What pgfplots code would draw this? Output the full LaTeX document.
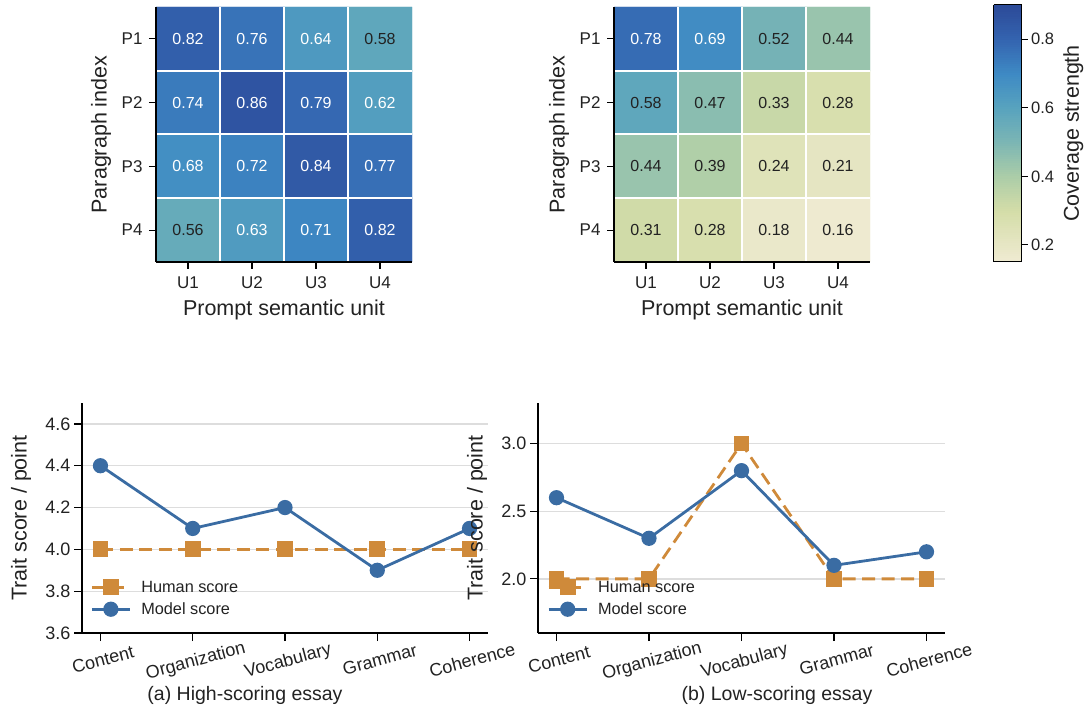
\documentclass[border=0pt]{standalone}
\usepackage{pgfplots}
\pgfplotsset{compat=1.18}
\usepackage{fontspec}
\setmainfont{Liberation Sans}
\definecolor{hblue}{RGB}{58,108,163}
\definecolor{horange}{RGB}{207,138,58}
\definecolor{gridgray}{RGB}{221,221,221}
\definecolor{txtdark}{RGB}{34,34,34}
\pgfplotsset{
  colormap={cov}{rgb255(15pt)=(240,235,211); rgb255(30pt)=(212,221,168); rgb255(40pt)=(172,205,168); rgb255(50pt)=(124,182,180); rgb255(60pt)=(88,163,190); rgb255(70pt)=(62,138,196); rgb255(80pt)=(52,100,176); rgb255(90pt)=(44,74,152)},
  hm/.style={
    anchor=south west, scale only axis, width=256pt, height=255pt,
    xmin=-0.5, xmax=3.5, ymin=-0.5, ymax=3.5,
    xtick={0,1,2,3}, xticklabels={U1,U2,U3,U4},
    ytick={0,1,2,3}, yticklabels={P4,P3,P2,P1},
    minor xtick={0.5,1.5,2.5}, minor ytick={0.5,1.5,2.5},
    minor tick length=0pt, xminorgrids, yminorgrids,
    minor grid style={white, line width=2pt},
    axis on top,
    axis x line*=bottom, axis y line*=left,
    axis line style={-, black, line width=1.4pt},
    tick align=outside, major tick length=7pt,
    major tick style={black, line width=1.2pt},
    ticklabel style={font=\fontsize{17}{20}\selectfont, text=txtdark},
    xticklabel style={yshift=-4pt},
    yticklabel style={xshift=-3pt},
    xlabel={Prompt semantic unit}, ylabel={Paragraph index},
    every axis x label/.style={at={(axis description cs:0.5,0)}, anchor=center, yshift=-48pt, font=\fontsize{21.5}{25}\selectfont, text=txtdark},
    every axis y label/.style={at={(axis description cs:-0.215,0.5)}, rotate=90, anchor=center, font=\fontsize{21.5}{25}\selectfont, text=txtdark},
    colormap name=cov, point meta min=0.15, point meta max=0.9,
  },
  lp/.style={
    anchor=south west, scale only axis, height=230pt,
    xmin=-0.2, xmax=4.2,
    xtick={0,1,2,3,4}, xticklabels={Content,Organization,Vocabulary,Grammar,Coherence},
    ymajorgrids, grid style={gridgray, line width=1.3pt},
    axis x line*=bottom, axis y line*=left,
    axis line style={-, black, line width=1.4pt},
    tick align=outside, major tick length=8pt,
    major tick style={black, line width=1.2pt},
    ticklabel style={font=\fontsize{18}{21}\selectfont, text=txtdark},
    xticklabel style={yshift=-9pt, rotate=15, anchor=north},
    yticklabel style={/pgf/number format/fixed, /pgf/number format/fixed zerofill, /pgf/number format/precision=1, /pgf/number format/assume math mode=true},
    ylabel={Trait score / point},
    every axis y label/.style={at={(axis description cs:-0.150,0.5)}, rotate=90, anchor=center, font=\fontsize{21.5}{25}\selectfont, text=txtdark},
    legend style={draw=none, fill=none, anchor=north west, font=\fontsize{16.3}{19}\selectfont, text=txtdark, row sep=5pt, legend cell align=left,
      /tikz/every odd column/.append style={column sep=8pt}},
    legend image code/.code={\draw[mark repeat=2, mark phase=2, #1] plot coordinates {(0pt,0pt) (19pt,0pt) (38pt,0pt)};},
  },
  human/.style={horange, line width=2.8pt, dash pattern=on 13pt off 6.5pt, mark=square*, mark size=6.5pt, mark options={solid}},
  model/.style={hblue, line width=2.8pt, mark=*, mark size=6.2pt, mark options={solid}},
  annw/.style={only marks, mark=none, nodes near coords, point meta=explicit symbolic,
    every node near coord/.append style={anchor=center, font=\fontsize{16}{19}\selectfont, text=white}},
  annb/.style={only marks, mark=none, nodes near coords, point meta=explicit symbolic,
    every node near coord/.append style={anchor=center, font=\fontsize{16}{19}\selectfont, text=txtdark}},
}
\begin{document}
\begin{tikzpicture}
\useasboundingbox (0,-711pt) rectangle (1088pt,0pt);

% ---------- left heatmap ----------
\begin{axis}[hm, at={(156pt,-262pt)}]
\addplot[matrix plot*, mesh/cols=4, point meta=explicit] table[meta=z] {
x y z
0 0 0.56
1 0 0.63
2 0 0.71
3 0 0.82
0 1 0.68
1 1 0.72
2 1 0.84
3 1 0.77
0 2 0.74
1 2 0.86
2 2 0.79
3 2 0.62
0 3 0.82
1 3 0.76
2 3 0.64
3 3 0.58
};
\addplot[annw] table[meta=l] {
x y l
1 0 0.63
2 0 0.71
3 0 0.82
0 1 0.68
1 1 0.72
2 1 0.84
3 1 0.77
0 2 0.74
1 2 0.86
2 2 0.79
3 2 0.62
0 3 0.82
1 3 0.76
2 3 0.64
};
\addplot[annb] table[meta=l] {
x y l
0 0 0.56
3 3 0.58
};
\end{axis}

% ---------- right heatmap ----------
\begin{axis}[hm, at={(614pt,-262pt)},
  colorbar sampled,
  colorbar style={
    at={(parent axis.north east)}, anchor=north west, xshift=115pt, yshift=2pt,
    scale only axis, width=28pt, height=257pt, samples=120,
    axis lines=box, axis on top,
    axis line style={black, line width=1pt},
    ytick={0.2,0.4,0.6,0.8}, ytick pos=right, yticklabel pos=right,
    tick align=outside, major tick length=6pt,
    major tick style={black, line width=1.2pt},
    yticklabel style={font=\fontsize{16.5}{19}\selectfont, text=txtdark, /pgf/number format/fixed, /pgf/number format/fixed zerofill, /pgf/number format/precision=1, /pgf/number format/assume math mode=true},
    ylabel={Coverage strength},
    every axis y label/.style={at={(axis description cs:2.85,0.5)}, rotate=90, anchor=center, font=\fontsize{21.5}{25}\selectfont, text=txtdark},
  }]
\addplot[matrix plot*, mesh/cols=4, point meta=explicit] table[meta=z] {
x y z
0 0 0.31
1 0 0.28
2 0 0.18
3 0 0.16
0 1 0.44
1 1 0.39
2 1 0.24
3 1 0.21
0 2 0.58
1 2 0.47
2 2 0.33
3 2 0.28
0 3 0.78
1 3 0.69
2 3 0.52
3 3 0.44
};
\addplot[annw] table[meta=l] {
x y l
0 3 0.78
1 3 0.69
};
\addplot[annb] table[meta=l] {
x y l
0 0 0.31
1 0 0.28
2 0 0.18
3 0 0.16
0 1 0.44
1 1 0.39
2 1 0.24
3 1 0.21
0 2 0.58
1 2 0.47
2 2 0.33
3 2 0.28
2 3 0.52
3 3 0.44
};
\end{axis}

% ---------- (a) high-scoring ----------
\begin{axis}[lp, at={(82pt,-633pt)}, width=406pt,
  ymin=3.6, ymax=4.7, ytick={3.6,3.8,4.0,4.2,4.4,4.6},
  legend style={at={(axis description cs:0.013,0.245)}}]
\addplot[human] coordinates {(0,4.0) (1,4.0) (2,4.0) (3,4.0) (4,4.0)};
\addlegendentry{Human score}
\addplot[model] coordinates {(0,4.4) (1,4.1) (2,4.2) (3,3.9) (4,4.1)};
\addlegendentry{Model score}
\end{axis}

% ---------- (b) low-scoring ----------
\begin{axis}[lp, at={(538pt,-633pt)}, width=407pt,
  ymin=1.6, ymax=3.3, ytick={2.0,2.5,3.0},
  legend style={at={(axis description cs:0.015,0.245)}}]
\addplot[human] coordinates {(0,2.0) (1,2.0) (2,3.0) (3,2.0) (4,2.0)};
\addlegendentry{Human score}
\addplot[model] coordinates {(0,2.6) (1,2.3) (2,2.8) (3,2.1) (4,2.2)};
\addlegendentry{Model score}
\end{axis}

\node[font=\fontsize{19.5}{23}\selectfont, text=txtdark] at (245pt,-695pt) {(a) High-scoring essay};
\node[font=\fontsize{19.5}{23}\selectfont, text=txtdark] at (777pt,-695pt) {(b) Low-scoring essay};
\end{tikzpicture}
\end{document}
